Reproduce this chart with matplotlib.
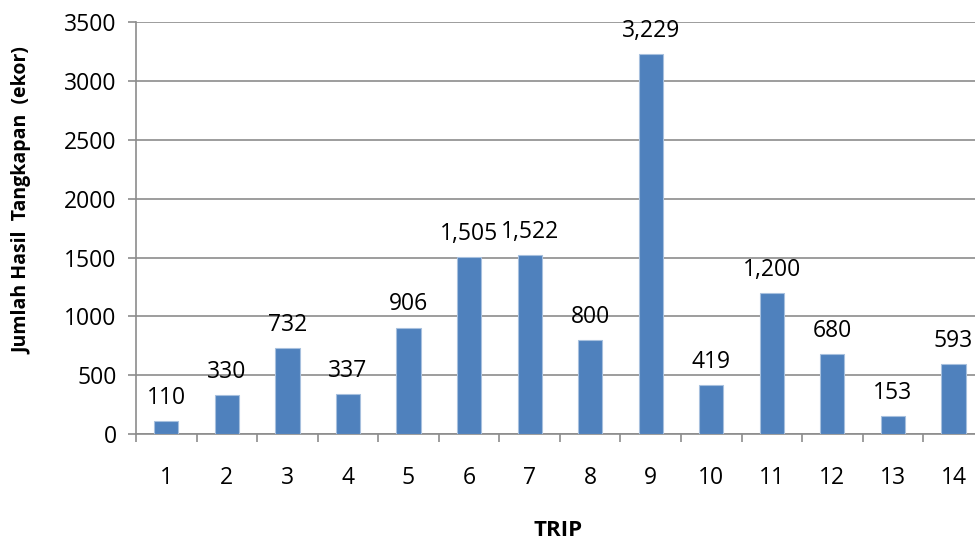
import numpy as np
import matplotlib.pyplot as plt

trips = [str(i) for i in range(1, 15)]
catch = [110, 330, 732, 337, 906, 1505, 1522, 800, 3229, 419, 1200, 680, 153, 593]

plt.rcParams['font.family'] = ['Open Sans', 'DejaVu Sans']

fig = plt.figure(figsize=(9.75, 5.4), dpi=100)
# plot area runs slightly past the right edge of the canvas
ax = fig.add_axes([0.1395, 0.196, 0.8695, 0.763])

x = np.arange(len(trips))
ax.bar(x, catch, width=0.4, color='#4F81BD', edgecolor='#A7C0DE', linewidth=0.8, zorder=3)

for xi, v in zip(x, catch):
    ax.annotate(f"{v:,}", (xi, v), xytext=(0, 8), textcoords='offset points',
                ha='center', va='bottom', fontsize=16.5)

ax.set_xlim(-0.5, len(trips) - 0.5)
ax.set_ylim(0, 3500)
ax.set_yticks(np.arange(0, 3501, 500))
ax.yaxis.grid(True, color='#8C8C8C', linewidth=1.2, zorder=0)

# category labels sit between boundary tick marks
ax.set_xticks(np.arange(-0.5, len(trips)), minor=False)
ax.set_xticklabels([])
ax.set_xticks(x, minor=True)
ax.set_xticklabels(trips, minor=True, fontsize=16.5)
ax.tick_params(axis='x', which='major', length=6, width=1.2, color='#8C8C8C', direction='out')
ax.tick_params(axis='x', which='minor', length=0, pad=23)
ax.tick_params(axis='y', length=6, width=1.2, color='#8C8C8C', labelsize=16.5, pad=8)

for side in ['top', 'right']:
    ax.spines[side].set_visible(False)
for side in ['left', 'bottom']:
    ax.spines[side].set_color('#8C8C8C')
    ax.spines[side].set_linewidth(1.2)

fig.text(22 / 975, 1 - 201 / 540, 'Jumlah Hasil  Tangkapan  (ekor)', rotation=90,
         ha='center', va='center', fontsize=14, fontweight='bold')
fig.text(558 / 975, 1 - 530 / 540, 'TRIP', ha='center', va='center',
         fontsize=16, fontweight='bold')

fig.savefig('out.png', dpi=100)
